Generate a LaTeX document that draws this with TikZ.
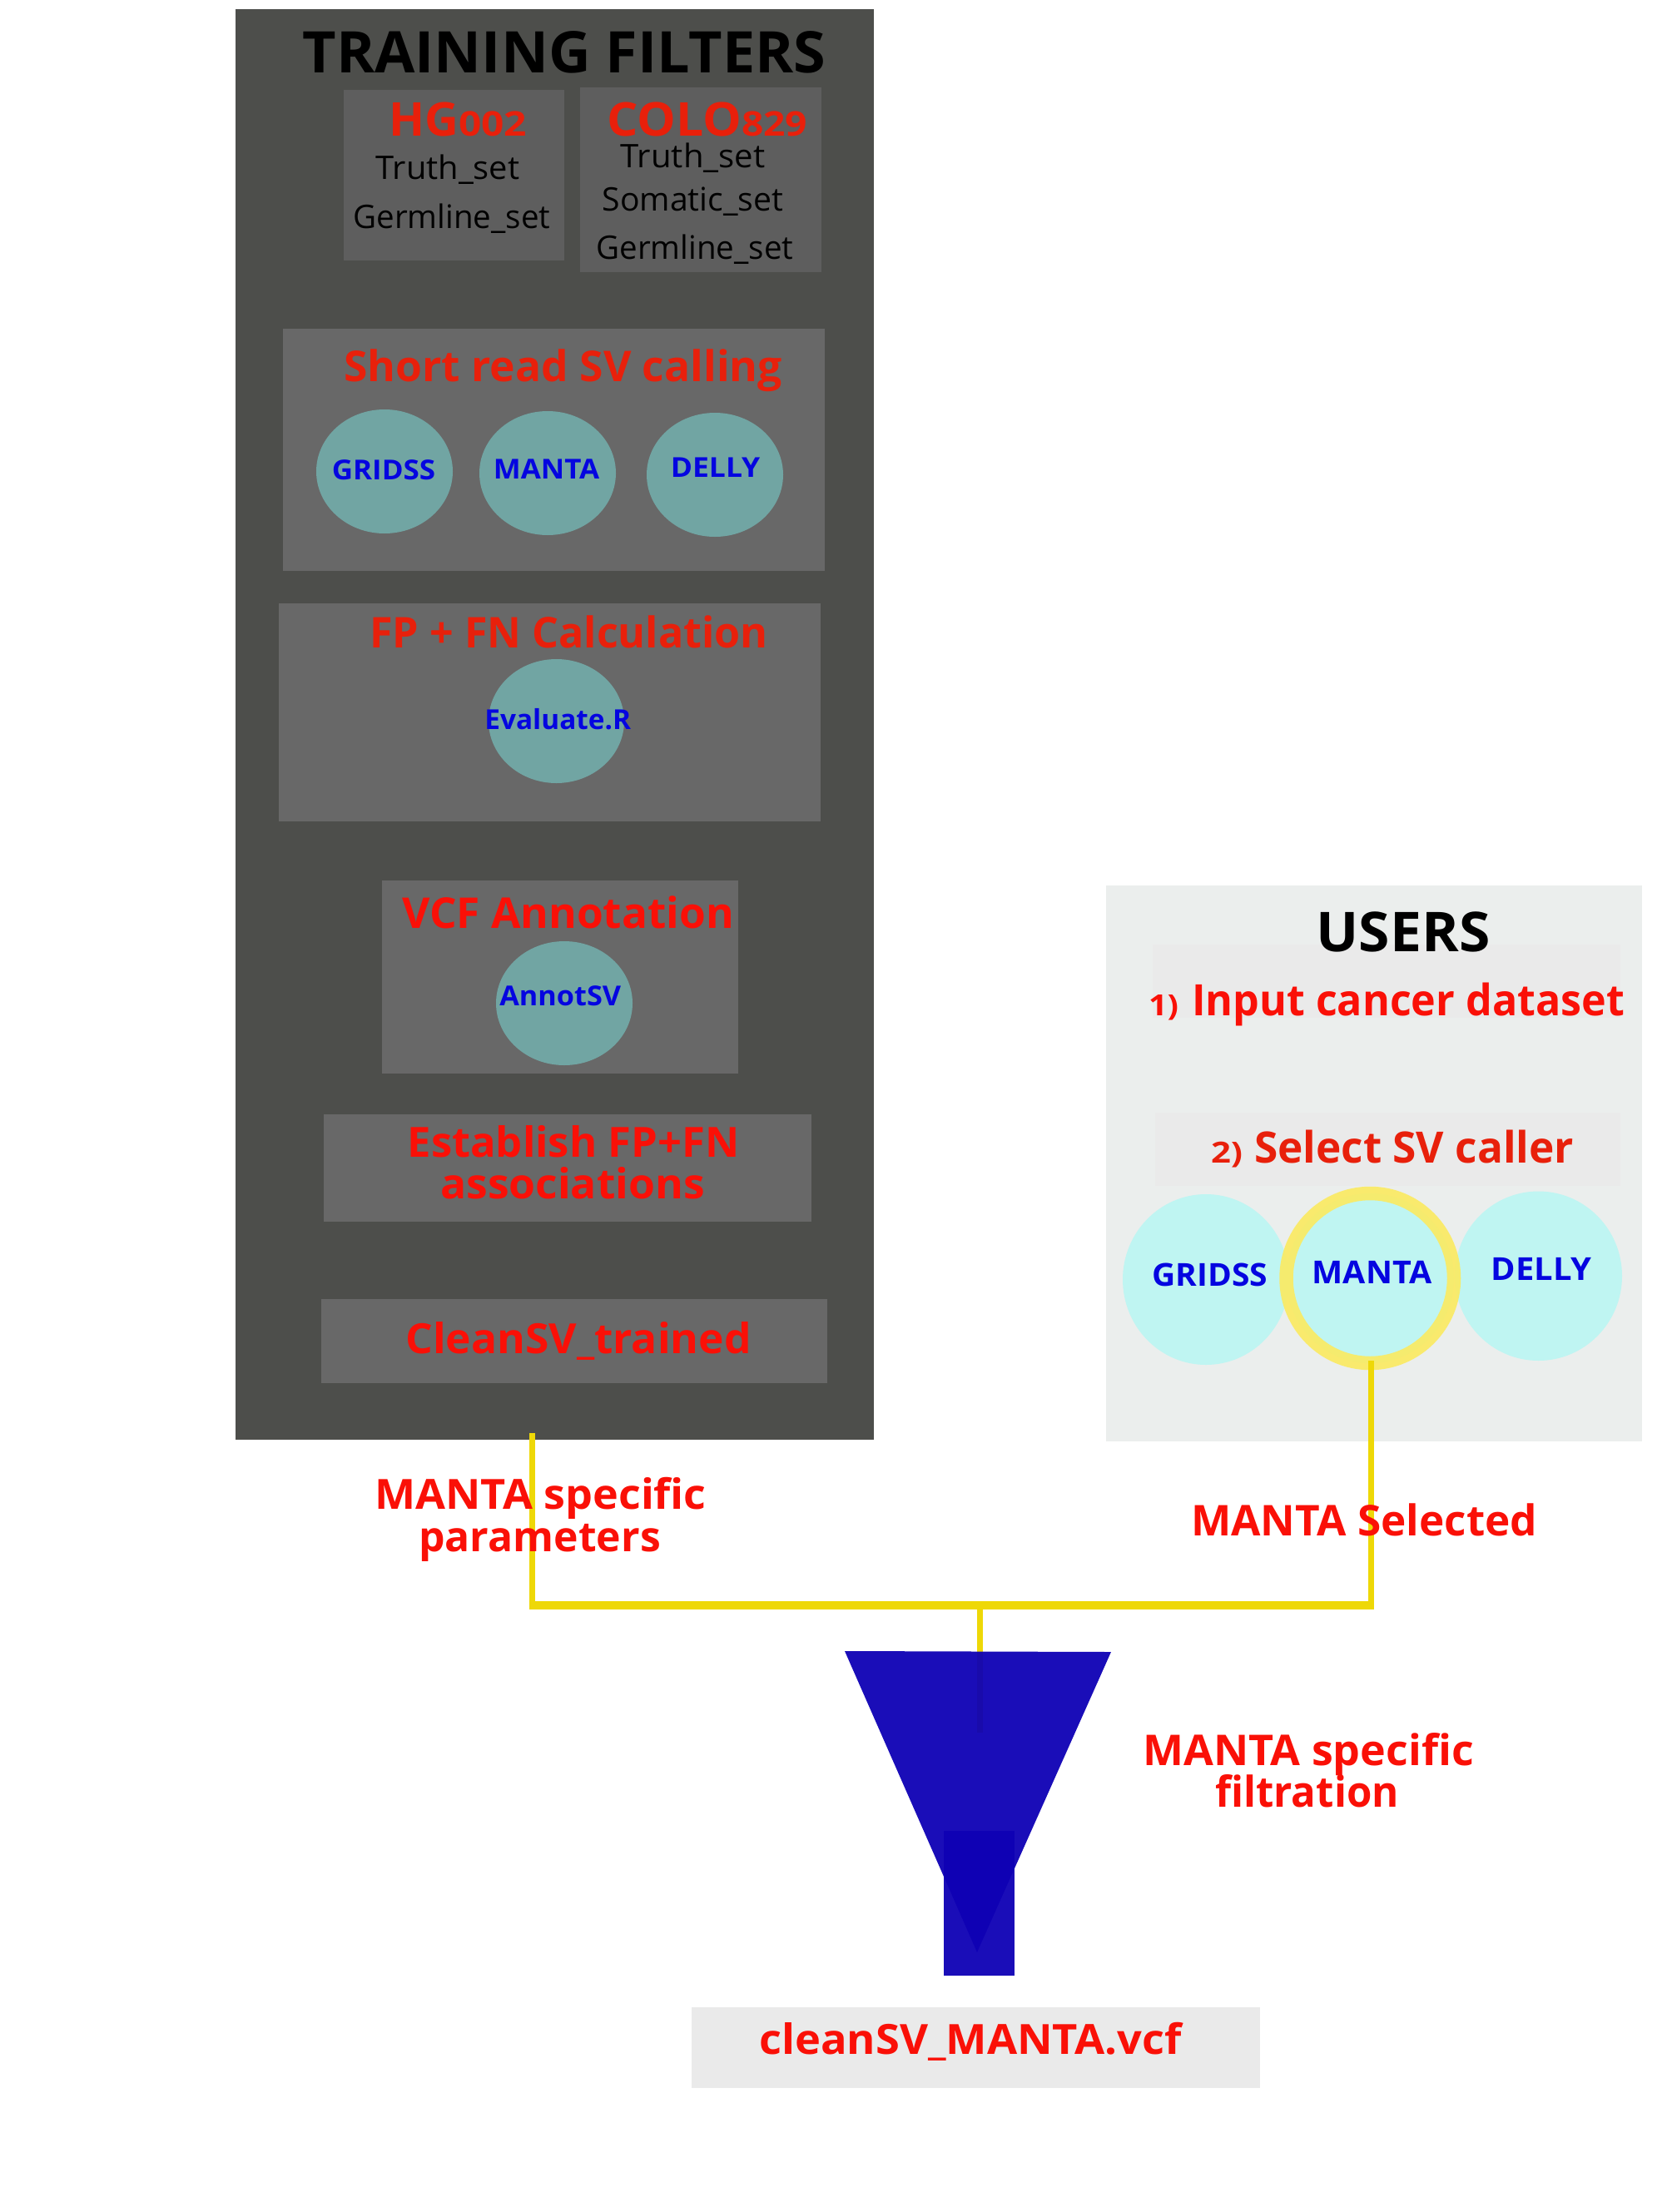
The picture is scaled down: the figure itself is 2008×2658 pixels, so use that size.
\documentclass[tikz,border=0pt]{standalone}
\usepackage{fontspec}
\usepackage{graphicx}
\setmainfont{Open Sans}
\usetikzlibrary{shapes.geometric}
\definecolor{panelDark}{HTML}{4D4E4B}
\definecolor{boxGrey}{HTML}{686868}
\definecolor{boxGreyB}{HTML}{5E5E5E}
\definecolor{tealC}{HTML}{71A5A3}
\definecolor{panelLight}{HTML}{EBEEED}
\definecolor{boxLight}{HTML}{EAEAEA}
\definecolor{aquaC}{HTML}{BFF5F2}
\definecolor{ringY}{HTML}{FBEA60}
\definecolor{lineY}{HTML}{EED807}
\definecolor{funnelB}{HTML}{0E00B4}
\definecolor{redA}{HTML}{E8200B}
\definecolor{redB}{HTML}{FA1007}
\definecolor{blueT}{HTML}{0505E0}
\newcommand\fsz[1]{\fontsize{#1}{#1}\selectfont}
\newcommand\fwd[2]{\hspace*{-.035em}\resizebox{\dimexpr#1pt+.07em\relax}{\height}{#2}}
\newcommand\boxn[6]{\pgfmathsetmacro\myw{#5-#3}\pgfmathsetmacro\myh{#6-#4}%
  \node[shp,#2,minimum width=\myw pt,minimum height=\myh pt] (#1) at ({(#3+#5)/2},{(#4+#6)/2}) {};}
\tikzset{
  shp/.style={inner sep=0pt,outer sep=0pt,draw=none},
  rnd/.style={shape=ellipse},
  lab/.style={inner sep=0pt,outer sep=0pt,anchor=base west},
  title/.style={lab,font=\bfseries,text=black},
  plain/.style={lab,text=black},
  heada/.style={lab,font=\bfseries,text=redA},
  headb/.style={lab,font=\bfseries,text=redB},
  call/.style={lab,font=\bfseries,text=blueT},
  yline/.style={draw=lineY,line width=7pt,line join=miter},
  yhoriz/.style={draw=lineY,line width=10pt},
}
\begin{document}
\begin{tikzpicture}[x=1pt,y=-1pt]
\useasboundingbox (0,0) rectangle (2008,2658);
% training panel
\boxn{train}{fill=panelDark}{283}{11}{1050}{1730}
\boxn{hgbox}{fill=boxGreyB}{413}{108}{678}{312.5}
\boxn{colobox}{fill=boxGreyB}{697}{105}{987}{327}
\boxn{shortbox}{fill=boxGrey}{340}{395}{991}{686}
\boxn{fpbox}{fill=boxGrey}{335}{725}{986}{987}
\boxn{vcfbox}{fill=boxGrey}{459}{1058}{887}{1290}
\boxn{estbox}{fill=boxGrey}{389}{1339}{975}{1468}
\boxn{cleanbox}{fill=boxGrey}{386}{1561}{994}{1662}
\node[title] (trainT) at (366,87) {\fsz{69}\fwd{624}{TRAINING FILTERS}};
\node[heada] (hgT) at (467,163) {\resizebox{84pt}{\height}{\fsz{56}HG}\resizebox{82pt}{\height}{\fsz{41}002}};
\node[plain] (hgA) at (453,215) {\fsz{39}\fwd{170}{Truth\_set}};
\node[plain] (hgB) at (426,274) {\fsz{39}\fwd{234}{Germline\_set}};
\node[heada] (coloT) at (729,163) {\resizebox{162pt}{\height}{\fsz{56}COLO}\resizebox{79pt}{\height}{\fsz{41}829}};
\node[plain] (coloA) at (747,201) {\fsz{39}\fwd{171}{Truth\_set}};
\node[plain] (coloB) at (725,253.6) {\fsz{39}\fwd{215}{Somatic\_set}};
\node[plain] (coloC) at (718,311) {\fsz{39}\fwd{234}{Germline\_set}};
\node[heada] (shortT) at (415,458) {\fsz{51}\fwd{523}{Short read SV calling}};
\boxn{cg}{rnd,fill=tealC}{380}{492}{544}{641}
\boxn{cm}{rnd,fill=tealC}{576}{494}{740}{643}
\boxn{cd}{rnd,fill=tealC}{777}{496}{941}{645}
\node[call] (cgT) at (400,576) {\fsz{33}\fwd{122}{GRIDSS}};
\node[call] (cmT) at (594,575) {\fsz{33}\fwd{125}{MANTA}};
\node[call] (cdT) at (807,573) {\fsz{33}\fwd{105}{DELLY}};
\node[heada] (fpT) at (446,778) {\fsz{51}\fwd{475}{FP + FN Calculation}};
\boxn{ce}{rnd,fill=tealC}{587}{792}{750}{941}
\node[call] (ceT) at (583.5,876) {\fsz{33}\fwd{173.5}{Evaluate.R}};
\node[headb] (vcfT) at (485,1115) {\fsz{51}\fwd{395}{VCF Annotation}};
\boxn{ca}{rnd,fill=tealC}{596}{1131}{760}{1280}
\node[call] (caT) at (601.5,1208) {\fsz{33}\fwd{143.5}{AnnotSV}};
\node[headb] (estA) at (491.5,1390) {\fsz{50}\fwd{395}{Establish FP+FN}};
\node[headb] (estB) at (531,1440) {\fsz{50}\fwd{314}{associations}};
\node[headb] (cleanT) at (489,1626) {\fsz{50}\fwd{412}{CleanSV\_trained}};
% users panel
\boxn{users}{fill=panelLight}{1329}{1064}{1973}{1732}
\boxn{ubox}{fill=boxLight}{1385}{1135}{1947}{1222.5}
\boxn{sbox}{fill=boxLight}{1388}{1337}{1947}{1425}
\node[title] (usersT) at (1584,1143) {\fsz{66}\fwd{204}{USERS}};
\node[headb] (inT) at (1380,1220) {\resizebox{36pt}{\height}{\fsz{35}1)}\hspace{16pt}\resizebox{520pt}{\height}{\fsz{52}Input cancer dataset}};
\node[heada] (selT) at (1455,1397) {\resizebox{38pt}{\height}{\fsz{35}2)}\hspace{14pt}\resizebox{384pt}{\height}{\fsz{52}Select SV caller}};
\boxn{ug}{rnd,fill=aquaC}{1349}{1435}{1549}{1640}
\boxn{ud}{rnd,fill=aquaC}{1748}{1431.5}{1949}{1635}
\boxn{um}{rnd,fill=aquaC}{1545.5}{1434}{1747}{1638}
\node[shp,rnd,draw=ringY,draw opacity=.9,line width=16.5pt,minimum width=201.5pt,minimum height=204pt] (ring) at (um.center) {};
\node[call] (ugT) at (1386,1545) {\fsz{38}\fwd{136}{GRIDSS}};
\node[call] (umT) at (1578,1542) {\fsz{38}\fwd{141}{MANTA}};
\node[call] (udT) at (1793,1538) {\fsz{38}\fwd{118}{DELLY}};
% connectors
\coordinate (trainOut) at (639,1722);
\coordinate (ringOut) at (1647.5,1635);
\coordinate (leftCorner) at (639,1929);
\coordinate (rightCorner) at (1647.5,1929);
\coordinate (junction) at (1177.5,1929);
\coordinate (dropEnd) at (1177.5,2082);
\draw[yline] (trainOut) -- (leftCorner);
\draw[yline] (ringOut) -- (rightCorner);
\draw[yhoriz] ([xshift=-3.5pt]leftCorner) -- ([xshift=3.5pt]rightCorner);
\draw[yline] (junction) -- (dropEnd);
% funnel
\coordinate (fa) at (1015,1984);
\coordinate (fb) at (1335,1985);
\coordinate (fc) at (1174,2346);
\fill[funnelB,opacity=.95] (fa) -- (fb) -- (fc) -- cycle;
\boxn{spout}{fill=funnelB,opacity=.95}{1134}{2200}{1219}{2374}
\boxn{outbox}{fill=boxLight}{831}{2412}{1514}{2509}
\node[headb] (outT) at (914,2468) {\fsz{50}\fwd{504}{cleanSV\_MANTA.vcf}};
% free labels
\node[headb] (paramA) at (452,1813.5) {\fsz{50}\fwd{395}{MANTA specific}};
\node[headb] (paramB) at (505,1864) {\fsz{50}\fwd{287}{parameters}};
\node[headb] (selLab) at (1433,1845) {\fsz{51}\fwd{412.5}{MANTA Selected}};
\node[headb] (filtA) at (1375,2121) {\fsz{51}\fwd{394}{MANTA specific}};
\node[headb] (filtB) at (1462,2171) {\fsz{51}\fwd{217}{filtration}};
\end{tikzpicture}
\end{document}
